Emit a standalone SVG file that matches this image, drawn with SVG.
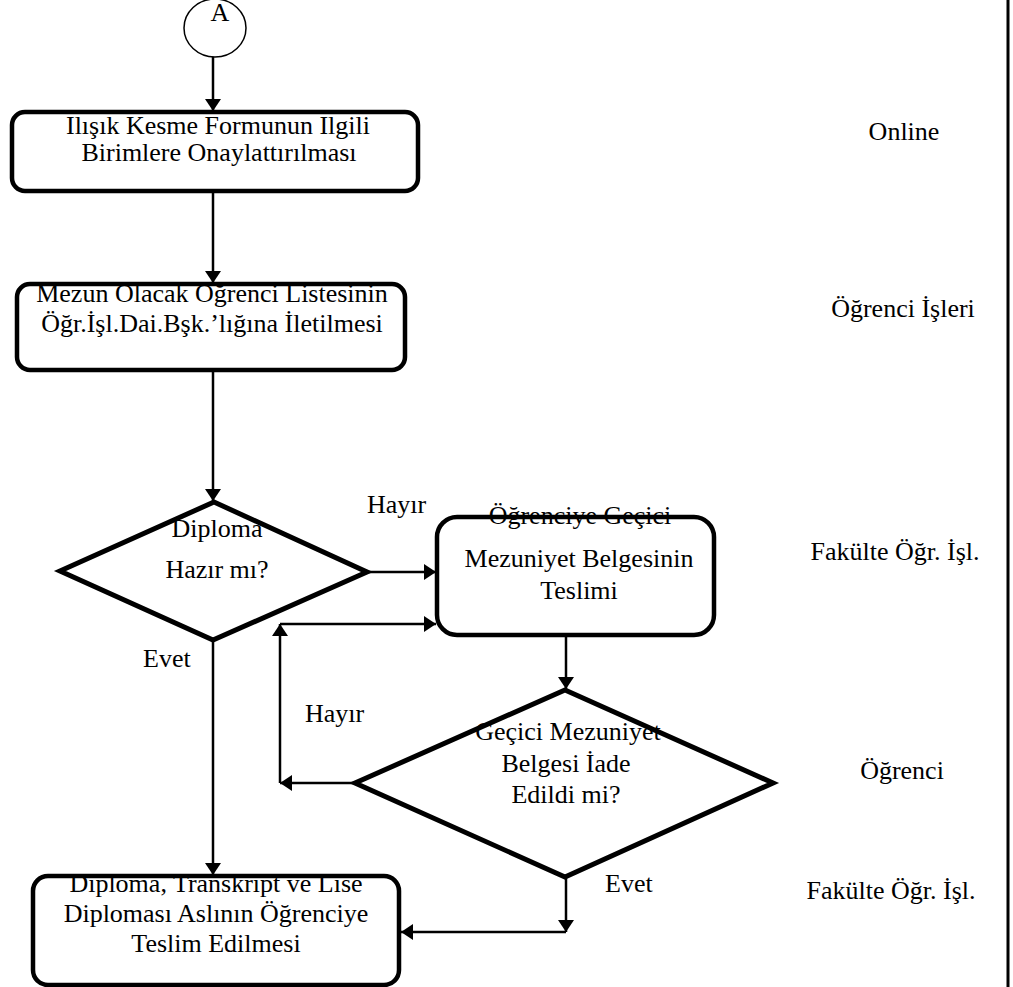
<svg xmlns="http://www.w3.org/2000/svg" width="1013" height="987" viewBox="0 0 1013 987" font-family="'Liberation Serif', 'Times New Roman', serif">
<style>
text{font-family:"Liberation Serif","Times New Roman",serif;font-size:26px;fill:#000;text-anchor:middle}
.l{text-anchor:start}
.box{fill:#fff;stroke:#000;stroke-width:4.5}
.dia{fill:#fff;stroke:#000;stroke-width:5;stroke-linejoin:miter}
.c{fill:none;stroke:#000;stroke-width:2.5}
</style>
<defs>
<marker id="ah" markerWidth="16" markerHeight="16" refX="12" refY="8" orient="auto" markerUnits="userSpaceOnUse">
<path d="M0,0 L12,8 L0,16 z" fill="#000"/>
</marker>
<clipPath id="cb2"><rect x="0" y="285" width="1013" height="200"/></clipPath>
<clipPath id="cb4"><rect x="0" y="877" width="1013" height="120"/></clipPath>
</defs>
<rect width="1013" height="987" fill="#fff"/>
<line x1="1008" y1="0" x2="1008" y2="987" stroke="#000" stroke-width="3"/>

<g id="connectors">
<line class="c" x1="213" y1="57" x2="213" y2="111" marker-end="url(#ah)"/>
<line class="c" x1="213" y1="192" x2="213" y2="283" marker-end="url(#ah)"/>
<line class="c" x1="213" y1="371" x2="213" y2="501" marker-end="url(#ah)"/>
<line class="c" x1="367" y1="572" x2="436" y2="572" marker-end="url(#ah)"/>
<line class="c" x1="213" y1="641" x2="213" y2="875" marker-end="url(#ah)"/>
<line class="c" x1="566" y1="637" x2="566" y2="689" marker-end="url(#ah)"/>
<line class="c" x1="355" y1="783" x2="280" y2="783" marker-end="url(#ah)"/>
<line class="c" x1="280" y1="783" x2="280" y2="624" marker-end="url(#ah)"/>
<line class="c" x1="280" y1="624" x2="436" y2="624" marker-end="url(#ah)"/>
<line class="c" x1="566" y1="877" x2="566" y2="932" marker-end="url(#ah)"/>
<line class="c" x1="566" y1="932" x2="401" y2="932" marker-end="url(#ah)"/>
</g>

<g id="start">
<ellipse cx="215" cy="28" rx="31" ry="29" fill="#fff" stroke="#000" stroke-width="1.5"/>
<text x="220" y="21">A</text>
</g>

<g id="box1">
<rect class="box" x="12" y="112" width="406" height="79" rx="13"/>
<text x="218" y="134">Ilışık Kesme Formunun Ilgili</text>
<text x="219" y="161">Birimlere Onaylattırılması</text>
</g>

<g id="box2">
<rect class="box" x="17" y="284" width="388" height="86" rx="13"/>
<g clip-path="url(#cb2)">
<text x="212" y="302">Mezun Olacak Öğrenci Listesinin</text>
<text x="212" y="332">Öğr.İşl.Dai.Bşk.’lığına İletilmesi</text>
</g>
</g>

<g id="decision1">
<polygon class="dia" points="214,502 367,572 213,640 60,571"/>
<text x="217" y="537">Diploma</text>
<text x="217" y="578">Hazır mı?</text>
</g>

<g id="box3">
<rect class="box" x="437" y="517" width="277" height="118" rx="20"/>
<text x="580" y="524">Öğrenciye Geçici</text>
<text x="579" y="567">Mezuniyet Belgesinin</text>
<text x="579" y="599">Teslimi</text>
</g>

<g id="decision2">
<polygon class="dia" points="565,690 773,783 565,877 355,783"/>
<text x="568" y="740">Geçici Mezuniyet</text>
<text x="566" y="772">Belgesi İade</text>
<text x="566" y="803">Edildi mi?</text>
</g>

<g id="box4">
<rect class="box" x="33" y="876" width="366" height="109" rx="15"/>
<g clip-path="url(#cb4)">
<text x="216" y="892">Diploma, Transkript ve Lise</text>
<text x="216" y="922">Diploması Aslının Öğrenciye</text>
<text x="216" y="952">Teslim Edilmesi</text>
</g>
</g>

<g id="labels">
<text class="l" x="367" y="513">Hayır</text>
<text class="l" x="143" y="667">Evet</text>
<text class="l" x="305" y="722">Hayır</text>
<text class="l" x="605" y="892">Evet</text>
</g>

<g id="lanes">
<text x="904" y="140">Online</text>
<text x="903" y="317">Öğrenci İşleri</text>
<text x="895" y="560">Fakülte Öğr. İşl.</text>
<text x="902" y="779">Öğrenci</text>
<text x="891" y="899">Fakülte Öğr. İşl.</text>
</g>
</svg>
